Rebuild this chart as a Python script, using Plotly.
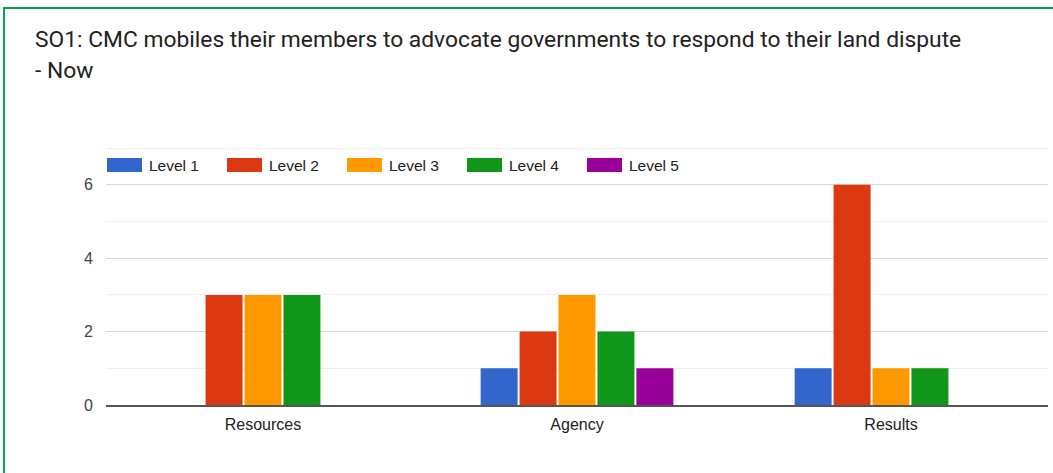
import plotly.graph_objects as go

categories = ["Resources", "Agency", "Results"]
series_names = ["Level 1", "Level 2", "Level 3", "Level 4", "Level 5"]
level1 = [0, 1, 1]
level2 = [3, 2, 6]
level3 = [3, 3, 1]
level4 = [3, 2, 1]
level5 = [0, 1, 0]
series_values = [level1, level2, level3, level4, level5]
colors = ["#3366CC", "#DC3912", "#FF9900", "#109618", "#990099"]
y_ticks = [0, 2, 4, 6]

title_line1 = "SO1: CMC mobiles their members to advocate governments to respond to their land dispute"
title_line2 = "- Now"

W, H = 1053, 473
ML, MR, MT, MB = 106, 5, 147, 68
PW = W - ML - MR
PH = H - MT - MB


def px_x(x):
    return (x - ML) / PW


def px_y(y):
    return (H - MB - y) / PH


fig = go.Figure()
for name, vals, col in zip(series_names, series_values, colors):
    fig.add_trace(go.Bar(
        x=categories, y=vals, name=name,
        marker=dict(color=col, line=dict(width=0)),
        showlegend=False,
    ))

shapes = []
annotations = []

# green frame of the screenshot
shapes.append(dict(type="rect", xref="paper", yref="paper",
                   x0=px_x(4), x1=px_x(1060), y0=px_y(8), y1=px_y(480),
                   line=dict(color="#00A651", width=2), fillcolor="rgba(0,0,0,0)",
                   layer="below"))

# title
annotations.append(dict(text=title_line1, xref="paper", yref="paper",
                        x=px_x(33), y=px_y(40), xanchor="left", yanchor="middle",
                        showarrow=False, font=dict(family="Roboto", size=22.8, color="#222222")))
annotations.append(dict(text=title_line2, xref="paper", yref="paper",
                        x=px_x(33), y=px_y(71), xanchor="left", yanchor="middle",
                        showarrow=False, font=dict(family="Roboto", size=22.8, color="#222222")))

# legend
for i, (name, col) in enumerate(zip(series_names, colors)):
    x0 = 107 + 120 * i
    shapes.append(dict(type="rect", xref="paper", yref="paper",
                       x0=px_x(x0), x1=px_x(x0 + 35), y0=px_y(158), y1=px_y(172),
                       fillcolor=col, line=dict(width=0)))
    annotations.append(dict(text=name, xref="paper", yref="paper",
                            x=px_x(x0 + 40), y=px_y(165), xanchor="left", yanchor="middle",
                            showarrow=False,
                            font=dict(family="Liberation Sans", size=15.5, color="#222222")))

fig.update_layout(
    width=W, height=H,
    margin=dict(l=ML, r=MR, t=MT, b=MB),
    paper_bgcolor="white", plot_bgcolor="white",
    barmode="group", bargap=0.38, bargroupgap=0.05,
    shapes=shapes, annotations=annotations,
    font=dict(family="Liberation Sans", size=16, color="#444444"),
    xaxis=dict(showgrid=False, showline=True, linecolor="#555555", linewidth=2,
               ticks="", ticklabelstandoff=4,
               tickfont=dict(size=16, color="#222222"), zeroline=False),
    yaxis=dict(range=[0, 7.03], tickvals=y_ticks, showgrid=True, gridcolor="#d9d9d9",
               gridwidth=1, zeroline=False, ticks="", ticklabelstandoff=12,
               tickfont=dict(size=16, color="#444444"),
               minor=dict(dtick=1, showgrid=True, gridcolor="#eeeeee", gridwidth=1)),
)

fig.write_html("out.html", config={"displayModeBar": False},
               post_script="document.body.style.margin='0';document.body.style.overflow='hidden';")
